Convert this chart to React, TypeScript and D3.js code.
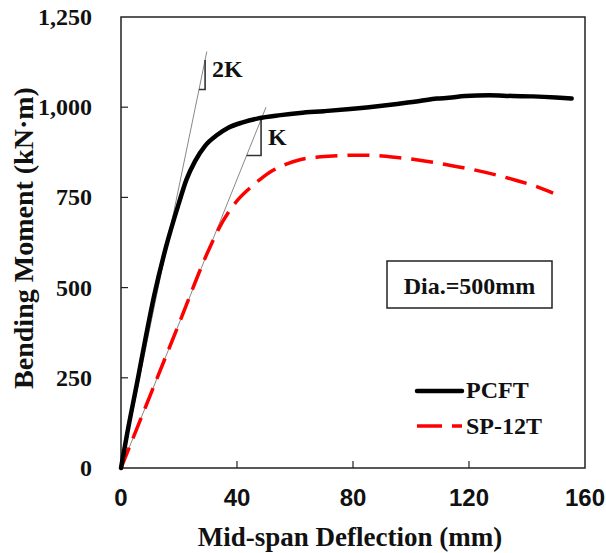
import * as d3 from "d3";

// deflection (mm) / bending moment (kN·m)
const pcftDefl = [0, 2, 6, 8, 11.5, 15.5, 19.8, 22.6, 25.5, 29, 33, 37, 42, 47.3, 55, 61.7, 70, 79, 90, 96.2, 103, 108.9, 113, 118.6, 127, 135, 142, 150, 155.4];
const pcftMoment = [0, 90, 255, 340, 480, 612, 730, 800, 850, 893, 922, 943, 958, 969, 978, 984, 989, 995, 1004, 1010, 1017, 1024, 1026, 1031, 1033, 1031, 1030, 1027, 1024];

const spDefl = [0, 10, 20, 30, 33.5, 37, 40.5, 43.9, 48, 52, 57, 62, 68, 73, 80, 88, 96, 103, 110, 116, 122.6, 130, 136.4, 143, 149];
const spMoment = [0, 200, 400, 600, 660, 708, 745, 772, 800, 823, 842, 855, 862, 865, 867, 866, 860, 853, 844, 835, 825, 811, 797, 781, 762];

const xTicks = [0, 40, 80, 120, 160];
const yTicks = [0, 250, 500, 750, 1000, 1250];

// stiffness reference lines: slope, end deflection, triangle from/to, label
const refSlopes = [39, 20];
const refEnds = [29.6, 50];
const triFrom = [26.9, 43.3];
const triTo = [29, 48.3];
const refLabels = ["2K", "K"];

const W = 606;
const H = 553;
const left = 121;
const right = 585;
const top = 17;
const bottom = 468;

const serif = "'Liberation Serif', 'Times New Roman', serif";
const sans = "'Liberation Sans', Arial, sans-serif";

export default function App() {
  const x = d3.scaleLinear().domain([0, 160]).range([left, right]);
  const y = d3.scaleLinear().domain([0, 1250]).range([bottom, top]);

  const line = d3
    .line<[number, number]>()
    .x((d) => x(d[0]))
    .y((d) => y(d[1]))
    .curve(d3.curveMonotoneX);

  const pcft = pcftDefl.map((d, i) => [d, pcftMoment[i]] as [number, number]);
  const sp = spDefl.map((d, i) => [d, spMoment[i]] as [number, number]);

  return (
    <svg width={W} height={H} style={{ position: "absolute", left: 0, top: 0, background: "#fff" }}>
      {/* plot frame */}
      <rect x={left} y={top} width={right - left} height={bottom - top} fill="none" stroke="#222" strokeWidth={1.5} />

      {xTicks.map((t) => (
        <g key={"x" + t}>
          {t > 0 && t < 160 && <line x1={x(t)} x2={x(t)} y1={bottom} y2={bottom - 7} stroke="#222" strokeWidth={1.2} />}
          <text x={x(t)} y={506} textAnchor="middle" fontFamily={sans} fontWeight="bold" fontSize={24} fill="#111">
            {t}
          </text>
        </g>
      ))}
      {yTicks.map((t) => (
        <g key={"y" + t}>
          {t > 0 && t < 1250 && <line x1={left} x2={left + 7} y1={y(t)} y2={y(t)} stroke="#222" strokeWidth={1.2} />}
          <text x={92} y={y(t) + 8} textAnchor="end" fontFamily={serif} fontWeight="bold" fontSize={24} fill="#111">
            {d3.format(",")(t)}
          </text>
        </g>
      ))}

      <text x={(left + right) / 2 - 3} y={546} textAnchor="middle" fontFamily={serif} fontWeight="bold" fontSize={27} fill="#111">
        Mid-span Deflection (mm)
      </text>
      <text
        transform={`translate(33,238) rotate(-90)`}
        textAnchor="middle"
        fontFamily={serif}
        fontWeight="bold"
        fontSize={28}
        fill="#111"
      >
        Bending Moment (kN·m)
      </text>

      {/* 2K / K reference lines */}
      {refSlopes.map((k, i) => (
        <g key={"ref" + i}>
          <line x1={x(0)} y1={y(0)} x2={x(refEnds[i])} y2={y(k * refEnds[i])} stroke="#888" strokeWidth={1} />
          <path
            d={`M${x(triFrom[i])},${y(k * triFrom[i])}H${x(triTo[i])}V${y(k * triTo[i])}`}
            fill="none"
            stroke="#333"
            strokeWidth={1.6}
          />
          <text
            x={x(triTo[i]) + 7}
            y={i === 0 ? 77 : 145}
            fontFamily={serif}
            fontWeight="bold"
            fontSize={24}
            fill="#111"
          >
            {refLabels[i]}
          </text>
        </g>
      ))}

      <path d={line(sp) ?? ""} fill="none" stroke="#f00" strokeWidth={3.5} strokeDasharray="22,10" />
      <path d={line(pcft) ?? ""} fill="none" stroke="#000" strokeWidth={4.5} strokeLinejoin="round" strokeLinecap="round" />

      {/* annotation box */}
      <rect x={387} y={261} width={165} height={47} fill="#fff" stroke="#222" strokeWidth={1.5} />
      <text x={469.5} y={294} textAnchor="middle" fontFamily={serif} fontWeight="bold" fontSize={24} fill="#111">
        Dia.=500mm
      </text>

      {/* legend */}
      <line x1={417} x2={462} y1={391} y2={391} stroke="#000" strokeWidth={4.5} strokeLinecap="round" />
      <text x={466} y={398} fontFamily={serif} fontWeight="bold" fontSize={24} fill="#111">
        PCFT
      </text>
      <line x1={417} x2={462} y1={426} y2={426} stroke="#f00" strokeWidth={3.5} strokeDasharray="25,10" />
      <text x={466} y={434} fontFamily={serif} fontWeight="bold" fontSize={24} fill="#111">
        SP-12T
      </text>
    </svg>
  );
}
